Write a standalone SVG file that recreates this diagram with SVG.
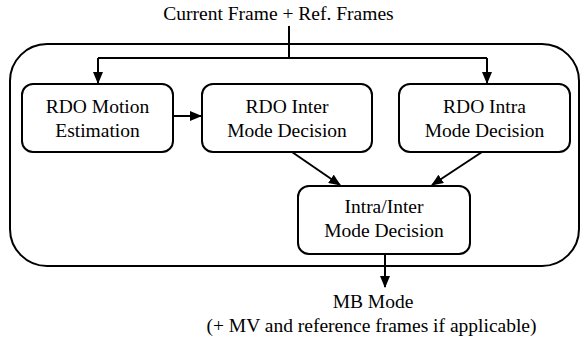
<svg xmlns="http://www.w3.org/2000/svg" width="582" height="339" viewBox="0 0 582 339">
<style>
.box{fill:#fff;stroke:#000;stroke-width:2}
.frame{fill:none;stroke:#000;stroke-width:2}
.c{fill:none;stroke:#000;stroke-width:2}
text{font-family:'Liberation Serif','DejaVu Serif',serif;font-size:19.5px;fill:#000;text-anchor:middle}
</style>
<defs>
<marker id="ah" viewBox="0 0 12 10" refX="11" refY="5" markerWidth="12" markerHeight="10" markerUnits="userSpaceOnUse" orient="auto">
<path d="M0,0 L12,5 L0,10 z" fill="#000"/>
</marker>
</defs>
<rect class="frame" x="10" y="44" width="569" height="222" rx="37" ry="37"/>
<text x="278.5" y="20">Current Frame + Ref. Frames</text>
<g id="connectors">
<path class="c" d="M289,26 V58"/>
<path class="c" d="M98,58 H487"/>
<path class="c" d="M98,58 V83" marker-end="url(#ah)"/>
<path class="c" d="M487,58 V83" marker-end="url(#ah)"/>
<path class="c" d="M173,116 H201" marker-end="url(#ah)"/>
<path class="c" d="M292,152 L340,185" marker-end="url(#ah)"/>
<path class="c" d="M482,152 L432,185" marker-end="url(#ah)"/>
<path class="c" d="M385,254 V287" marker-end="url(#ah)"/>
</g>
<g id="motion">
<rect class="box" x="22" y="84" width="151" height="68" rx="11"/>
<text x="97.5" y="113">RDO Motion</text>
<text x="97.5" y="137">Estimation</text>
</g>
<g id="inter">
<rect class="box" x="202" y="84" width="170" height="68" rx="11"/>
<text x="287" y="113">RDO Inter</text>
<text x="287" y="137">Mode Decision</text>
</g>
<g id="intra">
<rect class="box" x="399" y="84" width="171" height="68" rx="11"/>
<text x="484.5" y="113">RDO Intra</text>
<text x="484.5" y="137">Mode Decision</text>
</g>
<g id="intrainter">
<rect class="box" x="298" y="186" width="172" height="68" rx="11"/>
<text x="384" y="213">Intra/Inter</text>
<text x="384" y="237">Mode Decision</text>
</g>
<g id="output">
<text x="373" y="307.5">MB Mode</text>
<text x="371.5" y="331.5">(+ MV and reference frames if applicable)</text>
</g>
</svg>
